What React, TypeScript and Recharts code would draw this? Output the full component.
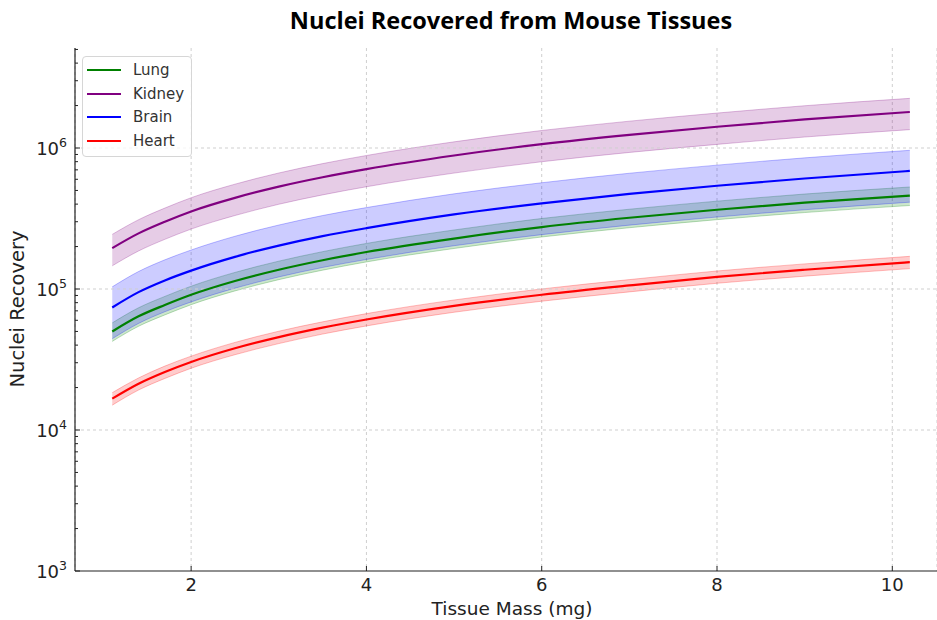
import { ComposedChart, Area, Line, XAxis, YAxis, CartesianGrid, ReferenceLine } from 'recharts'

// tissue mass (mg) sample points
const mass = [1.1, 1.4, 1.7, 2, 2.5, 3, 3.5, 4, 5, 6, 7, 8, 9, 10.2]

const lung = [50000, 64000, 77000, 91000, 114000, 137000, 160000, 183000, 228000, 275000, 320000, 365000, 410000, 460000]
const lungLo = [42500, 54400, 65500, 77400, 96900, 116500, 136000, 155600, 193800, 233800, 272000, 310300, 348500, 391000]
const lungHi = [57500, 73600, 88600, 104700, 131100, 157600, 184000, 210500, 262200, 316300, 368000, 419800, 471500, 529000]

const kidney = [195000, 248000, 300000, 355000, 443000, 532000, 620000, 708000, 885000, 1065000, 1240000, 1415000, 1595000, 1800000]
const kidneyLo = [146000, 186000, 225000, 266000, 332000, 399000, 465000, 531000, 664000, 799000, 930000, 1061000, 1196000, 1350000]
const kidneyHi = [244000, 310000, 375000, 444000, 554000, 665000, 775000, 885000, 1106000, 1331000, 1550000, 1769000, 1994000, 2250000]

const brain = [74000, 95000, 115000, 135000, 169000, 203000, 237000, 270000, 338000, 405000, 473000, 540000, 608000, 688000]
const brainLo = [44400, 57000, 69000, 81000, 101400, 121800, 142200, 162000, 202800, 243000, 283800, 324000, 364800, 412800]
const brainHi = [103600, 133000, 161000, 189000, 236600, 284200, 331800, 378000, 473200, 567000, 662200, 756000, 851200, 963200]

const heart = [16700, 21300, 25800, 30400, 38000, 45600, 53200, 60800, 76000, 91000, 106000, 122000, 137000, 155000]
const heartLo = [15000, 19200, 23200, 27400, 34200, 41000, 47900, 54700, 68400, 81900, 95400, 109800, 123300, 139500]
const heartHi = [18400, 23400, 28400, 33400, 41800, 50200, 58500, 66900, 83600, 100100, 116600, 134200, 150700, 170500]

const xTicks = [2, 4, 6, 8, 10]
const yTicks = [
  1000, 2000, 3000, 4000, 5000, 6000, 7000, 8000, 9000,
  10000, 20000, 30000, 40000, 50000, 60000, 70000, 80000, 90000,
  100000, 200000, 300000, 400000, 500000, 600000, 700000, 800000, 900000,
  1000000, 2000000, 3000000, 4000000, 5000000,
]
const decades = [10000, 100000, 1000000]

const tissues = [
  { key: 'lung', name: 'Lung', color: '#008000', mid: lung, lo: lungLo, hi: lungHi },
  { key: 'kidney', name: 'Kidney', color: '#800080', mid: kidney, lo: kidneyLo, hi: kidneyHi },
  { key: 'brain', name: 'Brain', color: '#0000ff', mid: brain, lo: brainLo, hi: brainHi },
  { key: 'heart', name: 'Heart', color: '#ff0000', mid: heart, lo: heartLo, hi: heartHi },
]

const rows = mass.map((m, i) => {
  const r: Record<string, number | number[]> = { x: m }
  for (const t of tissues) {
    r[t.key] = t.mid[i]
    r[t.key + 'Band'] = [t.lo[i], t.hi[i]]
  }
  return r
})

const W = 937
const H = 620
const AX = 75 // left spine
const AY = 571 // bottom spine
const FONT = '"DejaVu Sans", sans-serif'
const INK = '#222'

function YTick(props: any) {
  const { y, payload } = props
  const exp = Math.log10(payload.value)
  const major = Math.abs(exp - Math.round(exp)) < 1e-6
  return (
    <g>
      <line x1={AX} x2={AX + (major ? 5 : 3)} y1={y} y2={y} stroke={INK} strokeWidth={1} />
      {major && (
        <text x={AX - 8} y={y + 7} textAnchor="end" fontFamily={FONT} fontSize={18} fill={INK}>
          10<tspan dy={-8} fontSize={12.5}>{Math.round(exp)}</tspan>
        </text>
      )}
    </g>
  )
}

function XTick(props: any) {
  const { x, payload } = props
  return (
    <g>
      <line x1={x} x2={x} y1={AY} y2={AY - 5} stroke={INK} strokeWidth={1} />
      <text x={x} y={AY + 20} textAnchor="middle" fontFamily={FONT} fontSize={18} fill={INK}>
        {payload.value}
      </text>
    </g>
  )
}

function TissueLegend() {
  return (
    <div
      style={{
        position: 'absolute',
        left: 82,
        top: 56,
        width: 110,
        height: 101,
        border: '1px solid #d6d6d6',
        borderRadius: 4,
        background: 'rgba(255,255,255,0.8)',
        fontFamily: FONT,
        fontSize: 15,
        color: '#333',
        boxSizing: 'border-box',
        paddingTop: 1,
      }}
    >
      {tissues.map((t) => (
        <div key={t.key} style={{ height: 23.7, display: 'flex', alignItems: 'center' }}>
          <span style={{ display: 'inline-block', width: 34, height: 2, background: t.color, marginLeft: 4, marginRight: 12 }} />
          <span>{t.name}</span>
        </div>
      ))}
    </div>
  )
}

export default function App() {
  return (
    <div style={{ position: 'absolute', left: 0, top: 0, width: W, height: H, background: '#fff' }}>
      <ComposedChart width={W} height={H} data={rows} margin={{ top: 48, right: 0, bottom: 0, left: 0 }}>
        <CartesianGrid horizontal={false} stroke="#cfcfcf" strokeDasharray="3 3" />
        {decades.map((d) => (
          <ReferenceLine key={d} y={d} stroke="#cfcfcf" strokeDasharray="3 3" />
        ))}
        <XAxis
          type="number"
          dataKey="x"
          domain={[0.675, 10.51]}
          ticks={xTicks}
          interval={0}
          allowDataOverflow
          height={49}
          tickLine={false}
          axisLine={{ stroke: INK, strokeWidth: 1.2 }}
          tick={<XTick />}
        />
        <YAxis
          scale="log"
          domain={[1000, 5120000]}
          ticks={yTicks}
          interval={0}
          allowDataOverflow
          width={75}
          tickLine={false}
          axisLine={{ stroke: INK, strokeWidth: 1.2 }}
          tick={<YTick />}
        />
        {tissues.map((t) => (
          <Area
            key={t.key + 'Band'}
            type="monotone"
            dataKey={t.key + 'Band'}
            fill={t.color}
            fillOpacity={0.2}
            stroke={t.color}
            strokeOpacity={0.25}
            strokeWidth={1}
            isAnimationActive={false}
            dot={false}
            activeDot={false}
          />
        ))}
        {tissues.map((t) => (
          <Line
            key={t.key}
            type="monotone"
            dataKey={t.key}
            stroke={t.color}
            strokeWidth={2.2}
            dot={false}
            activeDot={false}
            isAnimationActive={false}
          />
        ))}
      </ComposedChart>
      <svg width={W} height={H} style={{ position: 'absolute', left: 0, top: 0, pointerEvents: 'none' }}>
        <text x={511} y={29} textAnchor="middle" fontFamily='"Open Sans", "Noto Sans", sans-serif' fontWeight={700} fontSize={23.5} fill="#000">
          Nuclei Recovered from Mouse Tissues
        </text>
        <text x={512} y={615} textAnchor="middle" fontFamily={FONT} fontSize={18.5} fill={INK}>
          Tissue Mass (mg)
        </text>
        <text
          x={0}
          y={0}
          transform="translate(24 309) rotate(-90)"
          textAnchor="middle"
          fontFamily={FONT}
          fontSize={19.5}
          fill={INK}
        >
          Nuclei Recovery
        </text>
      </svg>
      <TissueLegend />
    </div>
  )
}
